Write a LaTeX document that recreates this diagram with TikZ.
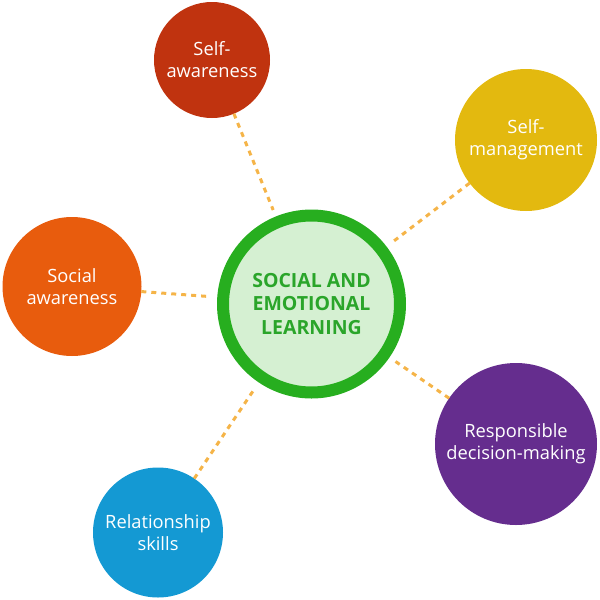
\documentclass[tikz,border=0pt]{standalone}
\usepackage{fontspec}
\setmainfont{Open Sans}
\definecolor{cSA}{RGB}{192,51,15}
\definecolor{cSM}{RGB}{227,185,15}
\definecolor{cSoc}{RGB}{232,92,13}
\definecolor{cRDM}{RGB}{101,45,142}
\definecolor{cRS}{RGB}{20,153,211}
\definecolor{cRing}{RGB}{39,174,31}
\definecolor{cFill}{RGB}{213,240,210}
\definecolor{cText}{RGB}{42,165,42}
\definecolor{cDash}{RGB}{245,180,72}
\begin{document}
\begin{tikzpicture}[x=1pt,y=-1pt,
  topic/.style={circle,inner sep=0pt,outer sep=0pt,text=white,align=center,
    font=\fontsize{18.3}{22}\selectfont},
  hub/.style={circle,inner sep=0pt,outer sep=6pt,draw=cRing,line width=12pt,
    fill=cFill,minimum size=177pt,text=cText,align=center,
    font=\fontsize{19.5}{23.5}\selectfont\bfseries},
  conn/.style={draw=cDash,line width=3pt,dash pattern=on 5pt off 5pt,shorten >=7pt}]
\useasboundingbox (0,0) rectangle (600,600);
\node[hub] (hub) at (311.5,304) {SOCIAL AND\\EMOTIONAL\\LEARNING};
\node[topic,fill=cSA,minimum size=116pt] (sa) at (212,60) {Self-\\awareness};
\node[topic,fill=cSM,minimum size=142pt] (sm) at (526,140) {Self-\\management};
\node[topic,fill=cSoc,minimum size=139pt] (soc) at (72,286.5) {Social\\awareness};
\node[topic,fill=cRDM,minimum size=162pt] (rdm) at (516,444) {Responsible\\decision-making};
\node[topic,fill=cRS,minimum size=130pt] (rs) at (158,532.5) {Relationship\\skills};
\draw[conn] (sa) -- (hub);
\draw[conn] (sm) -- (hub);
\draw[conn] (soc) -- (hub);
\draw[conn] (rdm) -- (hub);
\draw[conn] (rs) -- (hub);
\end{tikzpicture}
\end{document}
